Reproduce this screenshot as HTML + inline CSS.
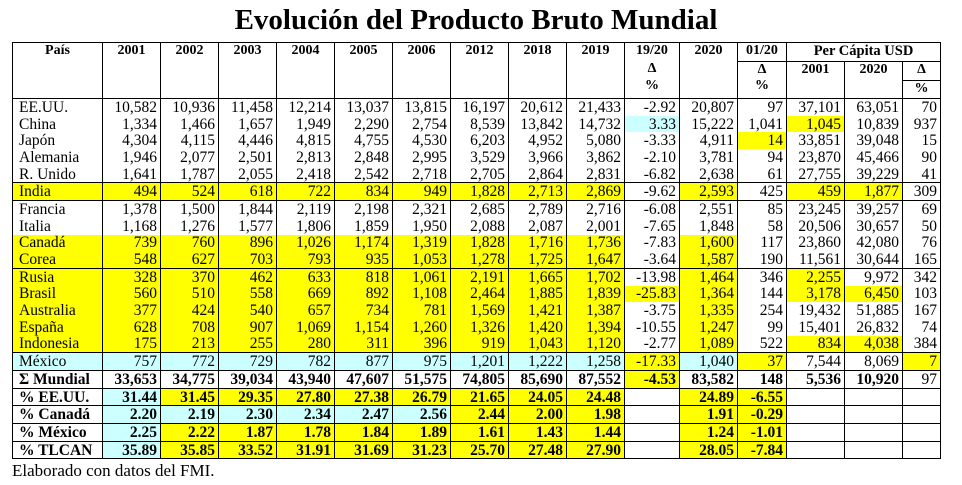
<!DOCTYPE html>
<html><head><meta charset="utf-8"><style>
body{margin:0;background:#fff;width:962px;height:485px;overflow:hidden;font-family:"Liberation Serif",serif;}
h1{position:absolute;left:0;top:4px;width:952px;margin:0;text-align:center;font-size:29px;font-weight:bold;line-height:32px;}
table{position:absolute;left:12px;top:42px;border-collapse:collapse;table-layout:fixed;}
td{border-left:1px solid #000;border-right:1px solid #000;padding:0 3px 0 0;font-size:15.5px;text-align:right;white-space:nowrap;height:16.7px;line-height:15px;overflow:hidden;}
td:first-child{text-align:left;padding:0 0 0 6px;}
.h td{font-weight:bold;font-size:14px;text-align:center;vertical-align:top;padding:0;height:auto;line-height:16px;}
tr.t td{border-top:1px solid #000;}
tr.b td{font-weight:bold;}
.y{background:#ffff00;}
.c{background:#ccffff;}
.n{font-weight:normal!important;}
.foot{position:absolute;left:12px;top:461px;font-size:17px;}
</style></head><body>
<h1>Evolución del Producto Bruto Mundial</h1>
<table>
<colgroup><col style="width:90px"><col style="width:58px"><col style="width:58px"><col style="width:58px"><col style="width:58px"><col style="width:58px"><col style="width:58px"><col style="width:58px"><col style="width:58px"><col style="width:58px"><col style="width:55px"><col style="width:58px"><col style="width:49px"><col style="width:58px"><col style="width:58px"><col style="width:38px"></colgroup>
<tr class="h t" style="height:18px"><td rowspan="3" style="padding:0;text-align:center">País</td><td rowspan="3">2001</td><td rowspan="3">2002</td><td rowspan="3">2003</td><td rowspan="3">2004</td><td rowspan="3">2005</td><td rowspan="3">2006</td><td rowspan="3">2012</td><td rowspan="3">2018</td><td rowspan="3">2019</td><td rowspan="3">19/20<br><span style="line-height:19px">Δ</span><br>%</td><td rowspan="3">2020</td><td style="height:18px">01/20</td><td colspan="3" style="font-size:14.5px">Per Cápita USD</td></tr>
<tr class="h t"><td rowspan="2" style="border-top:1px solid #000;height:35px">Δ<br>%</td><td rowspan="2" style="border-top:1px solid #000">2001</td><td rowspan="2" style="border-top:1px solid #000">2020</td><td style="border-top:1px solid #000;height:18px">Δ</td></tr>
<tr class="h"><td style="border-top:1px solid #000;height:17px">%</td></tr>
<tr class="t"><td>EE.UU.</td><td>10,582</td><td>10,936</td><td>11,458</td><td>12,214</td><td>13,037</td><td>13,815</td><td>16,197</td><td>20,612</td><td>21,433</td><td>-2.92</td><td>20,807</td><td>97</td><td>37,101</td><td>63,051</td><td>70</td></tr>
<tr><td>China</td><td>1,334</td><td>1,466</td><td>1,657</td><td>1,949</td><td>2,290</td><td>2,754</td><td>8,539</td><td>13,842</td><td>14,732</td><td class="c">3.33</td><td>15,222</td><td>1,041</td><td class="y">1,045</td><td>10,839</td><td>937</td></tr>
<tr><td>Japón</td><td>4,304</td><td>4,115</td><td>4,446</td><td>4,815</td><td>4,755</td><td>4,530</td><td>6,203</td><td>4,952</td><td>5,080</td><td>-3.33</td><td>4,911</td><td class="y">14</td><td>33,851</td><td>39,048</td><td>15</td></tr>
<tr><td>Alemania</td><td>1,946</td><td>2,077</td><td>2,501</td><td>2,813</td><td>2,848</td><td>2,995</td><td>3,529</td><td>3,966</td><td>3,862</td><td>-2.10</td><td>3,781</td><td>94</td><td>23,870</td><td>45,466</td><td>90</td></tr>
<tr><td>R. Unido</td><td>1,641</td><td>1,787</td><td>2,055</td><td>2,418</td><td>2,542</td><td>2,718</td><td>2,705</td><td>2,864</td><td>2,831</td><td>-6.82</td><td>2,638</td><td>61</td><td>27,755</td><td>39,229</td><td>41</td></tr>
<tr class="t"><td class="y">India</td><td class="y">494</td><td class="y">524</td><td class="y">618</td><td class="y">722</td><td class="y">834</td><td class="y">949</td><td class="y">1,828</td><td class="y">2,713</td><td class="y">2,869</td><td>-9.62</td><td class="y">2,593</td><td>425</td><td class="y">459</td><td class="y">1,877</td><td>309</td></tr>
<tr class="t"><td>Francia</td><td>1,378</td><td>1,500</td><td>1,844</td><td>2,119</td><td>2,198</td><td>2,321</td><td>2,685</td><td>2,789</td><td>2,716</td><td>-6.08</td><td>2,551</td><td>85</td><td>23,245</td><td>39,257</td><td>69</td></tr>
<tr><td>Italia</td><td>1,168</td><td>1,276</td><td>1,577</td><td>1,806</td><td>1,859</td><td>1,950</td><td>2,088</td><td>2,087</td><td>2,001</td><td>-7.65</td><td>1,848</td><td>58</td><td>20,506</td><td>30,657</td><td>50</td></tr>
<tr><td class="y">Canadá</td><td class="y">739</td><td class="y">760</td><td class="y">896</td><td class="y">1,026</td><td class="y">1,174</td><td class="y">1,319</td><td class="y">1,828</td><td class="y">1,716</td><td class="y">1,736</td><td>-7.83</td><td class="y">1,600</td><td>117</td><td>23,860</td><td>42,080</td><td>76</td></tr>
<tr><td class="y">Corea</td><td class="y">548</td><td class="y">627</td><td class="y">703</td><td class="y">793</td><td class="y">935</td><td class="y">1,053</td><td class="y">1,278</td><td class="y">1,725</td><td class="y">1,647</td><td>-3.64</td><td class="y">1,587</td><td>190</td><td>11,561</td><td>30,644</td><td>165</td></tr>
<tr class="t"><td class="y">Rusia</td><td class="y">328</td><td class="y">370</td><td class="y">462</td><td class="y">633</td><td class="y">818</td><td class="y">1,061</td><td class="y">2,191</td><td class="y">1,665</td><td class="y">1,702</td><td>-13.98</td><td class="y">1,464</td><td>346</td><td class="y">2,255</td><td>9,972</td><td>342</td></tr>
<tr><td class="y">Brasil</td><td class="y">560</td><td class="y">510</td><td class="y">558</td><td class="y">669</td><td class="y">892</td><td class="y">1,108</td><td class="y">2,464</td><td class="y">1,885</td><td class="y">1,839</td><td class="y">-25.83</td><td class="y">1,364</td><td>144</td><td class="y">3,178</td><td class="y">6,450</td><td>103</td></tr>
<tr><td class="y">Australia</td><td class="y">377</td><td class="y">424</td><td class="y">540</td><td class="y">657</td><td class="y">734</td><td class="y">781</td><td class="y">1,569</td><td class="y">1,421</td><td class="y">1,387</td><td>-3.75</td><td class="y">1,335</td><td>254</td><td>19,432</td><td>51,885</td><td>167</td></tr>
<tr><td class="y">España</td><td class="y">628</td><td class="y">708</td><td class="y">907</td><td class="y">1,069</td><td class="y">1,154</td><td class="y">1,260</td><td class="y">1,326</td><td class="y">1,420</td><td class="y">1,394</td><td>-10.55</td><td class="y">1,247</td><td>99</td><td>15,401</td><td>26,832</td><td>74</td></tr>
<tr><td class="y">Indonesia</td><td class="y">175</td><td class="y">213</td><td class="y">255</td><td class="y">280</td><td class="y">311</td><td class="y">396</td><td class="y">919</td><td class="y">1,043</td><td class="y">1,120</td><td>-2.77</td><td class="y">1,089</td><td>522</td><td class="y">834</td><td class="y">4,038</td><td>384</td></tr>
<tr class="t"><td class="c">México</td><td class="c">757</td><td class="c">772</td><td class="c">729</td><td class="c">782</td><td class="c">877</td><td class="c">975</td><td class="c">1,201</td><td class="c">1,222</td><td class="c">1,258</td><td class="y">-17.33</td><td class="c">1,040</td><td class="y">37</td><td>7,544</td><td>8,069</td><td class="y">7</td></tr>
<tr class="t b"><td>Σ Mundial</td><td>33,653</td><td>34,775</td><td>39,034</td><td>43,940</td><td>47,607</td><td>51,575</td><td>74,805</td><td>85,690</td><td>87,552</td><td class="y">-4.53</td><td>83,582</td><td>148</td><td>5,536</td><td>10,920</td><td class="n">97</td></tr>
<tr class="t b"><td>% EE.UU.</td><td class="c">31.44</td><td class="y">31.45</td><td class="y">29.35</td><td class="y">27.80</td><td class="y">27.38</td><td class="y">26.79</td><td class="y">21.65</td><td class="y">24.05</td><td class="y">24.48</td><td></td><td class="y">24.89</td><td class="y">-6.55</td><td></td><td></td><td></td></tr>
<tr class="t b"><td>% Canadá</td><td class="c">2.20</td><td class="c">2.19</td><td class="c">2.30</td><td class="c">2.34</td><td class="c">2.47</td><td class="c">2.56</td><td class="y">2.44</td><td class="y">2.00</td><td class="y">1.98</td><td></td><td class="y">1.91</td><td class="y">-0.29</td><td></td><td></td><td></td></tr>
<tr class="t b"><td>% México</td><td class="c">2.25</td><td class="y">2.22</td><td class="y">1.87</td><td class="y">1.78</td><td class="y">1.84</td><td class="y">1.89</td><td class="y">1.61</td><td class="y">1.43</td><td class="y">1.44</td><td></td><td class="y">1.24</td><td class="y">-1.01</td><td></td><td></td><td></td></tr>
<tr class="t b" style="border-bottom:1px solid #000"><td>% TLCAN</td><td class="c">35.89</td><td class="y">35.85</td><td class="y">33.52</td><td class="y">31.91</td><td class="y">31.69</td><td class="y">31.23</td><td class="y">25.70</td><td class="y">27.48</td><td class="y">27.90</td><td></td><td class="y">28.05</td><td class="y">-7.84</td><td></td><td></td><td></td></tr>
</table>
<div class="foot">Elaborado con datos del FMI.</div>
</body></html>
